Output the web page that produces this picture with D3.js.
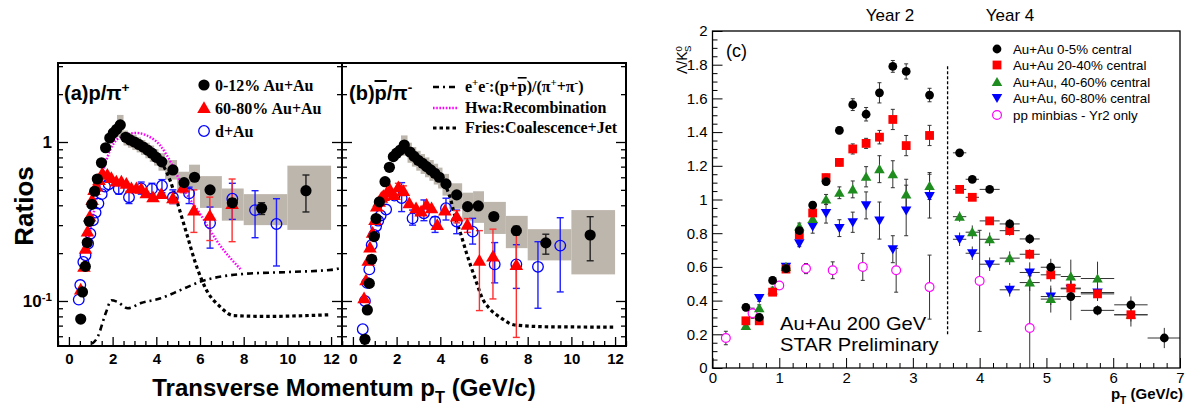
<!DOCTYPE html>
<html><head><meta charset="utf-8">
<script src="https://cdn.jsdelivr.net/npm/d3@7/dist/d3.min.js"></script>
<style>html,body{margin:0;padding:0;background:#fff;}svg{display:block;}</style>
</head><body>
<svg id="chart" width="1189" height="410"></svg>
<script>
// ================= DATA =================
const ptTicks = [0, 2, 4, 6, 8, 10, 12];
const ratioMajorTicks = [0.1, 1];
const ratioMinorTicks = [0.06, 0.07, 0.08, 0.09, 0.2, 0.3, 0.4, 0.5, 0.6, 0.7, 0.8, 0.9, 2, 3];
const lkTicks = [0, 0.2, 0.4, 0.6, 0.8, 1, 1.2, 1.4, 1.6, 1.8, 2];
const lkPtTicks = [0, 1, 2, 3, 4, 5, 6, 7];
const legendA = ["0-12% Au+Au", "60-80% Au+Au", "d+Au"];
const legendC = ["Au+Au 0-5% central", "Au+Au 20-40% central", "Au+Au, 40-60% central", "Au+Au, 60-80% central", "pp minbias - Yr2 only"];

// panel (a) p/pi+ : [pT, ratio, errLow, errHigh]
const aCentral = [[0.54,0.077],[0.62,0.114],[0.75,0.165],[0.84,0.233],[0.93,0.317],[1.05,0.405],[1.18,0.49],[1.30,0.585],[1.49,0.74],[1.68,0.92],[1.87,1.06],[2.03,1.14],[2.18,1.2],[2.35,1.28],[2.6,1.07],[2.8,1.03],[3.0,1.0],[3.2,0.965],[3.4,0.93],[3.6,0.89],[3.8,0.85],[4.0,0.80],[4.25,0.75],[4.76,0.667],[5.27,0.555],[5.75,0.6],[6.46,0.5],[7.48,0.415,0.39,0.44],[8.82,0.383,0.35,0.415],[10.85,0.494,0.363,0.62]];
const aPeripheral = [[0.54,0.118],[0.69,0.164],[0.76,0.213],[0.85,0.273],[0.95,0.339],[1.06,0.432],[1.15,0.499],[1.26,0.524],[1.38,0.577],[1.53,0.636],[1.76,0.621],[1.94,0.592],[2.17,0.563],[2.4,0.563],[2.63,0.545],[2.86,0.511],[3.09,0.511],[3.31,0.507],[3.54,0.476],[3.85,0.449],[4.23,0.47],[4.76,0.442,0.41,0.48],[5.22,0.516,0.48,0.55],[5.72,0.37,0.27,0.5],[6.45,0.343,0.24,0.45],[7.47,0.407,0.236,0.585]];
const aDAu = [[0.45,0.102],[0.52,0.126],[0.66,0.176],[0.76,0.194],[0.88,0.23],[0.98,0.265],[1.10,0.322],[1.22,0.36],[1.35,0.41],[1.5,0.47],[1.65,0.525],[1.82,0.542],[2.28,0.506,0.47,0.55],[2.75,0.449,0.41,0.49],[3.31,0.511,0.47,0.56],[3.8,0.507,0.47,0.55],[4.26,0.531,0.48,0.58],[4.76,0.449,0.41,0.5],[5.5,0.475,0.41,0.52],[6.46,0.309,0.215,0.39],[7.48,0.44,0.326,0.55],[8.52,0.373,0.25,0.494],[9.5,0.305,0.166,0.44]];
// systematic boxes [pTlow, pThigh, low, high]
const aSyst = [[2.2,2.5,1.08,1.48],[2.5,2.7,0.95,1.18],[2.7,2.9,0.92,1.14],[2.9,3.1,0.89,1.11],[3.1,3.3,0.86,1.07],[3.3,3.5,0.83,1.03],[3.5,3.7,0.79,0.99],[3.7,3.9,0.75,0.95],[3.9,4.1,0.71,0.90],[4.1,4.4,0.66,0.85],[4.4,4.95,0.58,0.77],[4.95,5.5,0.48,0.65],[5.5,6.0,0.5,0.72],[6.0,7.0,0.385,0.61],[7.0,8.0,0.32,0.51],[8.0,10.0,0.30,0.47],[10.0,12.0,0.28,0.71]];
// model curves [pT, ratio]
const aEEcurve = [[0.6,0.045],[0.8,0.05],[1.33,0.06],[1.7,0.085],[1.94,0.101],[2.2,0.099],[2.7,0.09],[3.3,0.097],[4.2,0.104],[5.1,0.117],[6.0,0.132],[8.0,0.148],[10,0.152],[12,0.157],[12.5,0.162]];
const aHwaCurve = [[0.89,0.24],[1.42,0.547],[1.88,0.886],[2.49,1.10],[3.1,1.14],[3.56,1.1],[4.17,0.953],[4.7,0.73],[5.24,0.51],[6.0,0.354],[6.76,0.24],[7.9,0.156]];
const aFriesCurve = [[4.2,0.76],[4.63,0.574],[4.93,0.43],[5.39,0.265],[5.85,0.164],[6.3,0.117],[6.92,0.092],[7.53,0.081],[9,0.08],[12,0.082]];

// panel (b) pbar/pi-
const bCentral = [[0.55,0.0574],[0.66,0.0878],[0.75,0.129],[0.86,0.183],[0.97,0.254],[1.06,0.33],[1.21,0.42],[1.47,0.563],[1.67,0.693],[1.85,0.809],[2.0,0.85],[2.17,0.89],[2.35,0.957],[2.61,0.865],[2.8,0.812],[2.99,0.767],[3.19,0.734],[3.37,0.70],[3.56,0.667],[3.75,0.636],[3.95,0.60],[4.26,0.545],[4.75,0.465],[5.25,0.392],[5.74,0.396],[6.45,0.34],[7.48,0.277,0.26,0.295],[8.83,0.232,0.197,0.263],[10.86,0.26,0.179,0.339]];
const bPeripheral = [[0.51,0.104],[0.6,0.135],[0.7,0.179],[0.78,0.217],[0.9,0.268],[1.01,0.323],[1.09,0.392],[1.2,0.42],[1.3,0.445],[1.39,0.457],[1.55,0.48],[1.7,0.5],[1.88,0.464],[2.08,0.519,0.49,0.55],[2.31,0.492,0.46,0.53],[2.58,0.411],[2.89,0.383],[3.12,0.365],[3.37,0.402],[3.6,0.383],[3.86,0.3],[4.21,0.37],[4.75,0.339,0.31,0.37],[5.24,0.301,0.27,0.33],[5.79,0.179,0.087,0.277],[6.41,0.19,0.103,0.283],[7.48,0.168,0.059,0.28]];
const bDAu = [[0.45,0.0664],[0.55,0.1],[0.65,0.13],[0.75,0.158],[0.86,0.225],[0.97,0.26],[1.06,0.295],[1.16,0.32],[1.27,0.345],[1.52,0.376],[1.9,0.46],[2.23,0.444,0.365,0.555],[2.73,0.331,0.3,0.373],[3.25,0.356,0.32,0.432],[3.76,0.316,0.27,0.339],[4.26,0.383,0.323,0.443],[4.75,0.316,0.265,0.373],[5.48,0.273,0.228,0.331],[6.49,0.17,0.13,0.233],[7.48,0.17,0.12,0.226],[8.47,0.164,0.09,0.236],[9.49,0.223,0.114,0.334]];
const bSyst = [[2.2,2.5,0.82,1.1],[2.5,2.7,0.74,0.99],[2.7,2.9,0.70,0.93],[2.9,3.1,0.66,0.88],[3.1,3.3,0.63,0.84],[3.3,3.5,0.60,0.80],[3.5,3.7,0.57,0.77],[3.7,3.9,0.54,0.73],[3.9,4.1,0.51,0.69],[4.1,4.4,0.46,0.63],[4.4,5.0,0.38,0.55],[5.0,5.5,0.32,0.48],[5.5,6.0,0.31,0.49],[6.0,7.0,0.264,0.42],[7.0,8.0,0.215,0.343],[8.0,10.0,0.18,0.283],[10.0,12.0,0.147,0.373]];
const bFriesCurve = [[4.0,0.6],[4.44,0.45],[4.7,0.33],[4.95,0.26],[5.2,0.2],[5.59,0.139],[5.97,0.101],[6.18,0.092],[6.79,0.078],[7.4,0.0706],[9,0.0688],[12,0.0685]];

// panel (c) Lambda/K0s : [pT, ratio, yErr, pTErr]
const c0to5 = [[0.5,0.36,0.02,0],[0.7,0.30,0.02,0],[0.9,0.52,0.02,0],[1.1,0.59,0.02,0],[1.3,0.815,0.02,0],[1.5,0.967,0.02,0],[1.7,1.106,0.02,0],[1.9,1.41,0.02,0],[2.1,1.563,0.035,0],[2.3,1.506,0.04,0],[2.5,1.633,0.06,0],[2.7,1.79,0.035,0],[2.9,1.76,0.045,0],[3.25,1.62,0.04,0],
  [3.7,1.277,0.02,0.1],[3.89,1.12,0.02,0.1],[4.15,1.06,0.02,0.15],[4.45,0.855,0.03,0.15],[4.75,0.766,0.03,0.15],[5.065,0.598,0.05,0.15],[5.365,0.424,0.14,0.15],[5.765,0.342,0.03,0.25],[6.265,0.375,0.05,0.25],[6.765,0.178,0.06,0.25]];
const c20to40 = [[0.5,0.28,0.02,0],[0.7,0.28,0.02,0],[0.9,0.45,0.02,0],[1.1,0.587,0.02,0],[1.3,0.79,0.02,0],[1.5,0.92,0.02,0],[1.7,1.13,0.02,0],[1.9,1.22,0.02,0],[2.1,1.30,0.03,0],[2.3,1.333,0.03,0],[2.5,1.37,0.04,0],[2.7,1.475,0.06,0],[2.9,1.32,0.06,0],[3.25,1.38,0.06,0],
  [3.7,1.06,0.02,0.1],[3.89,1.013,0.02,0.1],[4.15,0.873,0.02,0.15],[4.45,0.815,0.03,0.15],[4.75,0.675,0.03,0.15],[5.065,0.553,0.04,0.15],[5.365,0.474,0.04,0.15],[5.765,0.44,0.04,0.25],[6.265,0.316,0.04,0.25]];
const c40to60 = [[0.5,0.25,0.02,0],[0.7,0.355,0.02,0],[0.9,0.46,0.02,0],[1.1,0.6,0.02,0],[1.3,0.84,0.02,0],[1.5,0.885,0.02,0],[1.7,1.0,0.03,0],[1.9,1.04,0.035,0],[2.1,1.06,0.05,0],[2.3,1.135,0.06,0],[2.5,1.18,0.08,0],[2.7,1.15,0.08,0],[2.9,1.03,0.09,0],[3.25,1.08,0.08,0],
  [3.7,0.898,0.03,0.1],[3.89,0.806,0.04,0.1],[4.15,0.764,0.04,0.15],[4.45,0.652,0.04,0.15],[4.75,0.507,0.05,0.15],[5.065,0.409,0.08,0.15],[5.365,0.543,0.1,0.15],[5.765,0.531,0.1,0.25],[6.265,0.316,0.07,0.25]];
const c60to80 = [[0.7,0.415,0.02,0],[1.1,0.60,0.02,0],[1.3,0.74,0.02,0],[1.5,0.84,0.04,0],[1.7,0.92,0.06,0],[1.9,0.83,0.05,0],[2.1,0.865,0.06,0],[2.3,0.965,0.08,0],[2.5,0.875,0.11,0],[2.7,0.705,0.08,0],[2.9,0.935,0.15,0],[3.25,1.02,0.13,0],
  [3.7,0.764,0.04,0.1],[3.89,0.681,0.04,0.1],[4.15,0.616,0.04,0.15],[4.45,0.464,0.04,0.15],[4.75,0.567,0.06,0.15],[5.065,0.424,0.05,0.15],[5.365,0.47,0.05,0.15],[5.765,0.448,0.05,0.25]];
const cPP = [[0.2,0.178,0.04,0],[0.6,0.325,0.03,0],[1.0,0.49,0.02,0],[1.4,0.59,0.03,0],[1.8,0.58,0.05,0],[2.25,0.60,0.08,0],[2.75,0.58,0.13,0],[3.25,0.48,0.19,0],[4.0,0.517,0.3,0],[4.75,0.237,0.31,0]];
const yearBoundary = [3.52, 0.2, 1.8];

// ================= DRAWING =================
const svg = d3.select('#chart');
const SANS = "'Liberation Sans', Arial, Helvetica, sans-serif";
const SERIF = "'Liberation Serif', 'Times New Roman', serif";
const BOX = '#bdb6ad';

function rich(g, x, y, parts, size, attrs) {
  const t = g.append('text').attr('x', x).attr('y', y).attr('font-size', size);
  for (const k in (attrs || {})) t.attr(k, attrs[k]);
  let shift = 0;
  parts.forEach(p => {
    const [s, mode, over, dx] = Array.isArray(p) ? p : [p];
    const target = mode === 'sup' ? -size * 0.38 : mode === 'sub' ? size * 0.3 : 0;
    const ts = t.append('tspan').text(s).attr('dy', target - shift);
    if (dx) ts.attr('dx', dx);
    if (mode) ts.attr('font-size', size * 0.68);
    if (over) ts.style('text-decoration', 'overline');
    shift = target;
  });
  return t;
}

// ---------- panels (a) and (b) ----------
const yR = d3.scaleLog().domain([0.0521, 3.14]).range([346, 63]);
const xA = d3.scaleLinear().domain([-0.5, 12.5]).range([58, 342]);
const xB = d3.scaleLinear().domain([-0.5, 12.5]).range([342, 626]);

const defs = svg.append('defs');
[['clipA', xA], ['clipB', xB]].forEach(([id, x]) => {
  defs.append('clipPath').attr('id', id).append('rect')
    .attr('x', x.range()[0]).attr('y', 63).attr('width', x.range()[1] - x.range()[0]).attr('height', 283);
});
defs.append('clipPath').attr('id', 'clipC').append('rect').attr('x', 712.5).attr('y', 31).attr('width', 467.5).attr('height', 337);

const triSym = d3.symbol().type(d3.symbolTriangle);

function drawRatioPanel(x, clipId, syst, central, periph, dau, curves) {
  const g = svg.append('g').attr('clip-path', `url(#${clipId})`);
  g.selectAll('rect.sys').data(syst).join('rect').attr('class', 'sys')
    .attr('x', d => x(d[0])).attr('width', d => x(d[1]) - x(d[0]))
    .attr('y', d => yR(d[3])).attr('height', d => yR(d[2]) - yR(d[3]))
    .attr('fill', BOX);
  const line = d3.line().x(d => x(d[0])).y(d => yR(d[1])).curve(d3.curveMonotoneX);
  curves.forEach(c => {
    g.append('path').attr('d', line(c.data)).attr('fill', 'none')
      .attr('stroke', c.color).attr('stroke-width', c.width).attr('stroke-dasharray', c.dash);
  });
  function errs(data, color) {
    const e = data.filter(d => d.length > 2);
    g.selectAll(null).data(e).join('line').attr('x1', d => x(d[0])).attr('x2', d => x(d[0]))
      .attr('y1', d => yR(d[2])).attr('y2', d => yR(d[3])).attr('stroke', color).attr('stroke-width', 1.4);
    [2, 3].forEach(i => g.selectAll(null).data(e).join('line')
      .attr('x1', d => x(d[0]) - 3.5).attr('x2', d => x(d[0]) + 3.5)
      .attr('y1', d => yR(d[i])).attr('y2', d => yR(d[i])).attr('stroke', color).attr('stroke-width', 1.4));
  }
  errs(dau, '#1f1fff');
  errs(periph, '#ff3030');
  errs(central, '#222');
  g.selectAll(null).data(dau).join('circle').attr('cx', d => x(d[0])).attr('cy', d => yR(d[1]))
    .attr('r', 5.3).attr('fill', 'none').attr('stroke', '#0000ff').attr('stroke-width', 1.3);
  g.selectAll(null).data(periph).join('path').attr('d', triSym.size(80))
    .attr('transform', d => `translate(${x(d[0])},${yR(d[1]) + 1})`).attr('fill', '#ff0000');
  g.selectAll(null).data(central).join('circle').attr('cx', d => x(d[0])).attr('cy', d => yR(d[1]))
    .attr('r', 5.6).attr('fill', '#000');
}

drawRatioPanel(xA, 'clipA', aSyst, aCentral, aPeripheral, aDAu, [
  { data: aEEcurve, color: '#000', width: 2.6, dash: '6,4,2,4' },
  { data: aHwaCurve, color: '#ff00ff', width: 2.4, dash: '1.6,1.6' },
  { data: aFriesCurve, color: '#000', width: 3.2, dash: '3.5,3' }
]);
drawRatioPanel(xB, 'clipB', bSyst, bCentral, bPeripheral, bDAu, [
  { data: bFriesCurve, color: '#000', width: 3.2, dash: '3.5,3' }
]);

function ratioAxes(x, leftLabels) {
  const [x0, x1] = x.range();
  const g = svg.append('g');
  const styleAxis = a => {
    a.select('.domain').remove();
    a.selectAll('line').attr('stroke', '#000').attr('stroke-width', 1.3);
  };
  g.append('g').attr('transform', 'translate(0,346)')
    .call(d3.axisBottom(x).tickValues(ptTicks).tickSize(-9).tickPadding(7).tickFormat(d3.format('d')))
    .call(styleAxis)
    .call(a => a.selectAll('text').attr('font-family', SANS).attr('font-weight', 'bold').attr('font-size', 15).attr('fill', '#000'));
  const minor = d3.range(-0.5, 12.51, 0.5).filter(v => Math.abs(v / 2 - Math.round(v / 2)) > 1e-6);
  g.append('g').attr('transform', 'translate(0,346)')
    .call(d3.axisBottom(x).tickValues(minor).tickSize(-5).tickFormat(''))
    .call(styleAxis);
  [[x0, d3.axisLeft], [x1, d3.axisRight]].forEach(([px, ax]) => {
    g.append('g').attr('transform', `translate(${px},0)`)
      .call(ax(yR).tickValues(ratioMajorTicks).tickSize(-10).tickFormat('')).call(styleAxis);
    g.append('g').attr('transform', `translate(${px},0)`)
      .call(ax(yR).tickValues(ratioMinorTicks).tickSize(-5).tickFormat('')).call(styleAxis);
  });
  g.append('rect').attr('x', x0).attr('y', 63).attr('width', x1 - x0).attr('height', 283)
    .attr('fill', 'none').attr('stroke', '#000').attr('stroke-width', 2);
  if (leftLabels) {
    rich(g, x0 - 6, yR(1) + 6, ['1'], 17, { 'font-family': SANS, 'font-weight': 'bold', 'text-anchor': 'end' });
    rich(g, x0 - 6, yR(0.1) + 6, ['10', ['-1', 'sup']], 17, { 'font-family': SANS, 'font-weight': 'bold', 'text-anchor': 'end' });
  }
}
ratioAxes(xA, true);
ratioAxes(xB, false);

// titles (a),(b)
const gT = svg.append('g');
rich(gT, 64, 100, ['(a)p/π', ['+', 'sup']], 20, { 'font-family': SANS, 'font-weight': 'bold' });
rich(gT, 349, 100, ['(b)', ['p', null, true], '/π', ['-', 'sup']], 20, { 'font-family': SANS, 'font-weight': 'bold' });
gT.append('text').attr('transform', 'translate(33,206) rotate(-90)').attr('text-anchor', 'middle')
  .attr('font-family', SANS).attr('font-weight', 'bold').attr('font-size', 26).text('Ratios');
rich(gT, 344, 396, ['Transverse Momentum p', ['T', 'sub'], ' (GeV/c)'], 24,
  { 'font-family': SANS, 'font-weight': 'bold', 'text-anchor': 'middle' });

// legend (a)
const legA = svg.append('g').attr('font-family', SERIF).attr('font-weight', 'bold').attr('font-size', 16);
const legAy = [85, 108, 131];
legA.append('circle').attr('cx', 204).attr('cy', legAy[0]).attr('r', 5.6).attr('fill', '#000');
legA.append('path').attr('d', triSym.size(80)).attr('transform', `translate(204,${legAy[1] + 1})`).attr('fill', '#f00');
legA.append('circle').attr('cx', 204).attr('cy', legAy[2]).attr('r', 5.3).attr('fill', 'none').attr('stroke', '#00f').attr('stroke-width', 1.3);
legendA.forEach((s, i) => legA.append('text').attr('x', 215).attr('y', legAy[i] + 6).text(s));

// legend (b)
const legB = svg.append('g');
const legBy = [87, 108, 128];
legB.append('line').attr('x1', 433).attr('x2', 458).attr('y1', legBy[0]).attr('y2', legBy[0]).attr('stroke', '#000').attr('stroke-width', 2.6).attr('stroke-dasharray', '6,4,2,4');
legB.append('line').attr('x1', 433).attr('x2', 458).attr('y1', legBy[1]).attr('y2', legBy[1]).attr('stroke', '#f0f').attr('stroke-width', 2.4).attr('stroke-dasharray', '1.6,1.6');
legB.append('line').attr('x1', 433).attr('x2', 458).attr('y1', legBy[2]).attr('y2', legBy[2]).attr('stroke', '#000').attr('stroke-width', 3.2).attr('stroke-dasharray', '3.5,3');
const lbA = { 'font-family': SERIF, 'font-weight': 'bold' };
rich(legB, 465, legBy[0] + 5, ['e', ['+', 'sup'], 'e', ['-', 'sup'], ':(p+', ['p', null, true], ')/(π', ['+', 'sup'], '+π', ['-', 'sup'], ')'], 16, lbA);
rich(legB, 465, legBy[1] + 5, ['Hwa:Recombination'], 16, lbA);
rich(legB, 465, legBy[2] + 5, ['Fries:Coalescence+Jet'], 16, lbA);

// ---------- panel (c) ----------
const xC = d3.scaleLinear().domain([0, 7]).range([712.5, 1180]);
const yC = d3.scaleLinear().domain([0, 2]).range([368, 31]);
const gc = svg.append('g');
const gcd = gc.append('g').attr('clip-path', 'url(#clipC)');

gcd.append('line').attr('x1', xC(yearBoundary[0])).attr('x2', xC(yearBoundary[0]))
  .attr('y1', yC(yearBoundary[1])).attr('y2', yC(yearBoundary[2]))
  .attr('stroke', '#000').attr('stroke-width', 1.3).attr('stroke-dasharray', '3,2');

const seriesC = [
  { data: cPP, kind: 'open', color: '#ff00ff' },
  { data: c60to80, kind: 'down', color: '#0000ff' },
  { data: c40to60, kind: 'up', color: '#1e8c1e' },
  { data: c20to40, kind: 'square', color: '#ff0000' },
  { data: c0to5, kind: 'circle', color: '#000' }
];
function markerC(sel, kind, color) {
  if (kind === 'circle') sel.append('circle').attr('r', 4.4).attr('fill', color);
  else if (kind === 'open') sel.append('circle').attr('r', 4.4).attr('fill', '#fff').attr('stroke', color).attr('stroke-width', 1.2);
  else if (kind === 'square') sel.append('rect').attr('x', -4.4).attr('y', -4.4).attr('width', 8.8).attr('height', 8.8).attr('fill', color);
  else if (kind === 'up') sel.append('path').attr('d', triSym.size(48)).attr('transform', 'translate(0,1)').attr('fill', color);
  else if (kind === 'down') sel.append('path').attr('d', triSym.size(48)).attr('transform', 'translate(0,-1) rotate(180)').attr('fill', color);
}
seriesC.forEach(s => {
  const gE = gcd.append('g').attr('stroke', '#333').attr('stroke-width', 1);
  s.data.forEach(d => {
    const cx = xC(d[0]);
    gE.append('line').attr('x1', cx).attr('x2', cx).attr('y1', yC(Math.max(0, d[1] - d[2]))).attr('y2', yC(d[1] + d[2]));
    if (d[3] > 0) {
      gE.append('line').attr('x1', xC(d[0] - d[3])).attr('x2', xC(d[0] + d[3])).attr('y1', yC(d[1])).attr('y2', yC(d[1]));
    } else {
      [d[1] - d[2], d[1] + d[2]].forEach(v => gE.append('line').attr('x1', cx - 2).attr('x2', cx + 2).attr('y1', yC(v)).attr('y2', yC(v)));
    }
  });
});
seriesC.forEach(s => {
  gcd.append('g').selectAll('g').data(s.data).join('g')
    .attr('transform', d => `translate(${xC(d[0])},${yC(d[1])})`)
    .each(function () { markerC(d3.select(this), s.kind, s.color); });
});

const styleC = a => { a.select('.domain').remove(); a.selectAll('line').attr('stroke', '#000').attr('stroke-width', 1); };
gc.append('g').attr('transform', 'translate(0,368)')
  .call(d3.axisBottom(xC).tickValues(lkPtTicks).tickSize(-10).tickPadding(4).tickFormat(d3.format('d')))
  .call(styleC)
  .call(a => a.selectAll('text').attr('font-family', SANS).attr('font-size', 15).attr('fill', '#000'));
gc.append('g').attr('transform', 'translate(0,368)')
  .call(d3.axisBottom(xC).tickValues(d3.range(0, 7.01, 0.2).filter(v => Math.abs(v - Math.round(v)) > 1e-6)).tickSize(-5).tickFormat(''))
  .call(styleC);
gc.append('g').attr('transform', 'translate(712.5,0)')
  .call(d3.axisLeft(yC).tickValues(lkTicks).tickSize(-10).tickPadding(5).tickFormat(d => String(+d.toFixed(1))))
  .call(styleC)
  .call(a => a.selectAll('text').attr('font-family', SANS).attr('font-size', 15).attr('fill', '#000'));
gc.append('g').attr('transform', 'translate(712.5,0)')
  .call(d3.axisLeft(yC).tickValues(d3.range(0, 2.001, 0.05).filter(v => Math.abs(v * 5 - Math.round(v * 5)) > 1e-6)).tickSize(-5).tickFormat(''))
  .call(styleC);
gc.append('rect').attr('x', 712.5).attr('y', 31).attr('width', 467.5).attr('height', 337)
  .attr('fill', 'none').attr('stroke', '#000').attr('stroke-width', 1.3);

// texts c
const tc = { 'font-family': SANS };
rich(gc, 726, 57, ['(c)'], 18, tc);
rich(gc, 890, 21, ['Year 2'], 17, Object.assign({ 'text-anchor': 'middle' }, tc));
rich(gc, 1010, 21, ['Year 4'], 17, Object.assign({ 'text-anchor': 'middle' }, tc));
const starG = gc.append('g').attr('transform', 'translate(780,0) scale(1.12,1)');
rich(starG, 0, 330, ['Au+Au 200 GeV'], 18, tc);
rich(starG, 0, 351, ['STAR Preliminary'], 18, tc);
rich(gc, 1183, 399, ['p', ['T', 'sub'], ' (GeV/c)'], 15, Object.assign({ 'text-anchor': 'end', 'font-weight': 'bold' }, tc));
const yl = gc.append('g').attr('transform', 'translate(687,74) rotate(-90)');
rich(yl, 0, 0, ['Λ/K', ['0', 'sup'], ['S', 'sub', false, -6]], 14, tc);

// legend c
const legCy = [49, 65, 82, 98, 115];
const legKinds = ['circle', 'square', 'up', 'down', 'open'];
const legColors = ['#000', '#ff0000', '#1e8c1e', '#0000ff', '#ff00ff'];
legendC.forEach((s, i) => {
  const gl = gc.append('g').attr('transform', `translate(997,${legCy[i]})`);
  markerC(gl, legKinds[i], legColors[i]);
  rich(gc, 1013, legCy[i] + 4.5, [s], 13.3, tc);
});
</script>
</body></html>
